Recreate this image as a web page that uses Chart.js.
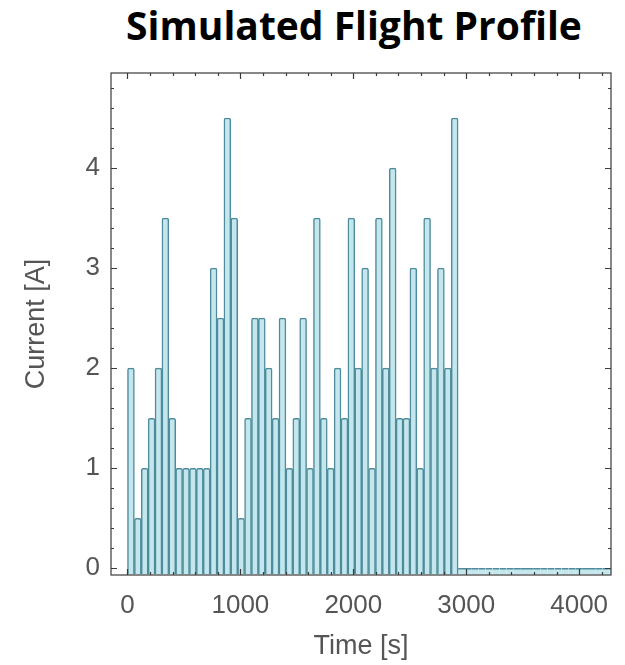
<!DOCTYPE html>
<html>
<head>
<meta charset="utf-8">
<title>Simulated Flight Profile</title>
<script src="https://cdn.jsdelivr.net/npm/chart.js@4"></script>
<style>
  html, body { margin: 0; padding: 0; background: #fff; }
  #wrap { position: relative; width: 625px; height: 665px; }
  #heading {
    position: absolute; left: 83px; top: 5px; width: 542px; margin: 0;
    text-align: center; font: bold 39px/39px "Open Sans", sans-serif; color: #000;
  }
  canvas { position: absolute; left: 0; top: 0; }
</style>
</head>
<body>
<div id="wrap">
  <h1 id="heading">Simulated Flight Profile</h1>
  <canvas id="profile" width="625" height="665"></canvas>
</div>
<script>
// start of each load step [s] and the current drawn during it [A]
const stepStart = [
  0, 61, 122, 183, 244, 305, 366, 427, 488, 549, 610, 671,
  732, 793, 854, 915, 976, 1037, 1098, 1159, 1220, 1281, 1342, 1403,
  1464, 1525, 1586, 1647, 1708, 1769, 1830, 1891, 1952, 2013, 2074, 2135,
  2196, 2257, 2318, 2379, 2440, 2501, 2562, 2623, 2684, 2745, 2806, 2867
];
const current = [
  2, 0.5, 1, 1.5, 2, 3.5, 1.5, 1, 1, 1, 1, 1,
  3, 2.5, 4.5, 3.5, 0.5, 1.5, 2.5, 2.5, 2, 1.5, 2.5, 1,
  1.5, 2.5, 1, 3.5, 1.5, 1, 2, 1.5, 3.5, 2, 3, 1,
  3.5, 2, 4, 1.5, 1.5, 3, 1, 3.5, 2, 3, 2, 4.5
];
// after landing: no load until the end of the run
const idleStart = [
  2928, 2989, 3050, 3111, 3172, 3233, 3294, 3355, 3416, 3477, 3538, 3599,
  3660, 3721, 3782, 3843, 3904, 3965, 4026, 4087, 4148, 4209, 4270
];
const idleCurrent = [
  0, 0, 0, 0, 0, 0, 0, 0, 0, 0, 0, 0,
  0, 0, 0, 0, 0, 0, 0, 0, 0, 0, 0
];
const stepLength = 61;

const timeTicks = [0, 1000, 2000, 3000, 4000];
const currentTicks = [0, 1, 2, 3, 4];

const fill = '#c4e7ee';
const edge = '#4f8b9a';
const labelFont = { family: '"Liberation Sans", Arial, sans-serif', size: 26 };
const labelColor = '#555';

// box round the plot with inward ticks on all four sides
const frame = {
  id: 'frame',
  afterDatasetsDraw(chart) {
    const { ctx, chartArea: a, scales: { x, y } } = chart;
    ctx.save();
    ctx.strokeStyle = '#3a3a3a';
    ctx.lineWidth = 1.2;
    ctx.beginPath();
    for (let t = 0; t <= x.max; t += 200) {
      const px = Math.round(x.getPixelForValue(t)) + 0.5;
      const len = t % 1000 === 0 ? 6 : 3;
      ctx.moveTo(px, a.bottom); ctx.lineTo(px, a.bottom - len);
      ctx.moveTo(px, a.top); ctx.lineTo(px, a.top + len);
    }
    for (let k = 0; k / 5 <= y.max; k++) {
      const py = Math.round(y.getPixelForValue(k / 5)) + 0.5;
      const len = k % 5 === 0 ? 6 : 3;
      ctx.moveTo(a.left, py); ctx.lineTo(a.left + len, py);
      ctx.moveTo(a.right, py); ctx.lineTo(a.right - len, py);
    }
    ctx.stroke();
    ctx.strokeRect(a.left, a.top, a.right - a.left, a.bottom - a.top);
    ctx.restore();
  }
};

new Chart(document.getElementById('profile'), {
  type: 'bar',
  data: {
    datasets: [
      {
        data: stepStart.map((t, i) => ({ x: t + stepLength / 2, y: current[i] })),
        backgroundColor: fill,
        borderColor: edge,
        borderWidth: 1.5,
        borderRadius: 2,
        borderSkipped: 'start',
        base: -0.06,
        grouped: false,
        barPercentage: 1,
        categoryPercentage: 1
      },
      {
        data: idleStart.map((t, i) => ({ x: t + stepLength / 2, y: idleCurrent[i] })),
        backgroundColor: fill,
        borderColor: edge,
        borderWidth: { top: 1.5, bottom: 0, left: 0, right: 0 },
        borderSkipped: false,
        base: -0.06,
        grouped: false,
        barPercentage: 1,
        categoryPercentage: 1
      }
    ]
  },
  options: {
    responsive: false,
    animation: false,
    layout: { padding: { left: 0, right: 14, top: 73, bottom: 0 } },
    plugins: {
      legend: { display: false },
      tooltip: { enabled: false }
    },
    scales: {
      x: {
        type: 'linear',
        min: -146,
        max: 4282,
        offset: false,
        grid: { display: false, drawTicks: false, offset: false },
        border: { display: false },
        afterBuildTicks: s => { s.ticks = timeTicks.map(v => ({ value: v })); },
        afterFit: s => { s.height = 90; },
        ticks: {
          font: labelFont, color: labelColor, padding: 15, maxRotation: 0, autoSkip: false,
          callback: v => String(v)
        },
        title: { display: true, text: 'Time [s]', font: { ...labelFont, size: 27 }, color: labelColor, padding: { top: 0, bottom: 2 } }
      },
      y: {
        min: -0.067,
        max: 4.95,
        grid: { display: false, drawTicks: false },
        border: { display: false },
        afterBuildTicks: s => { s.ticks = currentTicks.map(v => ({ value: v })); },
        afterFit: s => { s.width = 111; },
        ticks: { font: labelFont, color: labelColor, padding: 11, callback: v => String(v) },
        title: { display: true, text: 'Current [A]', font: { ...labelFont, size: 27 }, color: labelColor, padding: { top: 20, bottom: 0 } }
      }
    }
  },
  plugins: [frame]
});
</script>
</body>
</html>
